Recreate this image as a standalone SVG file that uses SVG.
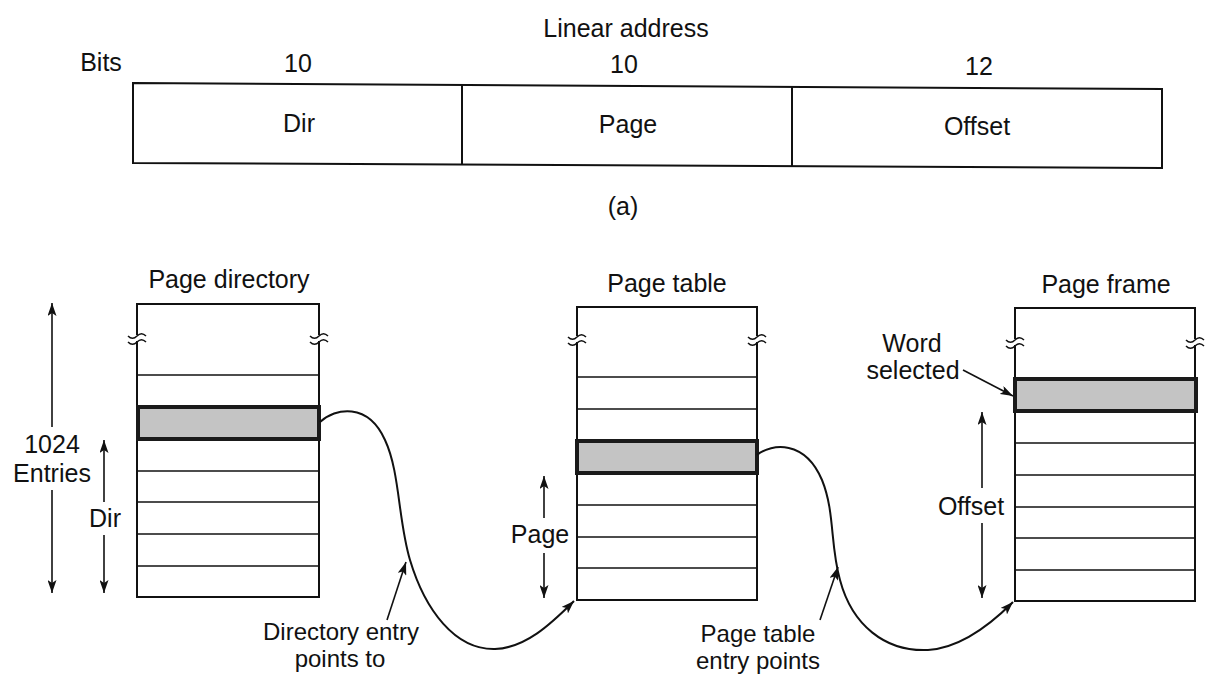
<svg xmlns="http://www.w3.org/2000/svg" width="1213" height="674" viewBox="0 0 1213 674">
<defs>
<style>
text{font-family:"Liberation Sans",Arial,sans-serif;font-size:25px;fill:#111;text-anchor:middle}
.sm{font-size:24px}
.box{fill:none;stroke:#111;stroke-width:2}
.row{stroke:#111;stroke-width:1.6}
.sel{fill:#c4c4c4;stroke:#1a1a1a;stroke-width:4}
.brk{fill:none;stroke:#111;stroke-width:1.5}
.gap{fill:#fff}
.ln{fill:none;stroke:#111;stroke-width:1.6}
.cv{fill:none;stroke:#111;stroke-width:2}
</style>
<marker id="ah" markerUnits="userSpaceOnUse" markerWidth="14" markerHeight="9" refX="13" refY="4.5" orient="auto">
<path d="M0,0 L13,4.5 L0,9 L3,4.5 z" fill="#111"/>
</marker>
<g id="brk">
<rect class="gap" x="-3" y="-2" width="6" height="6"/>
<path class="brk" d="M-9,-1 c3,3 6,3 9,0 s6,-3 9,0 M-9,5 c3,3 6,3 9,0 s6,-3 9,0"/>
</g>
</defs>
<rect width="1213" height="674" fill="#fff"/>

<g id="linear-address">
<text x="626" y="37">Linear address</text>
<text x="101" y="71">Bits</text>
<text x="298" y="72">10</text>
<text x="624" y="73">10</text>
<text x="979" y="75">12</text>
<polygon class="box" points="133,83 1162,89 1162,168 133,163"/>
<line class="box" x1="462" y1="85" x2="462" y2="165"/>
<line class="box" x1="792" y1="87" x2="792" y2="166"/>
<text x="299" y="132">Dir</text>
<text x="628" y="133">Page</text>
<text x="977" y="135">Offset</text>
<text x="623" y="215">(a)</text>
</g>

<g id="page-directory">
<text x="229" y="288">Page directory</text>
<rect class="box" x="137" y="304" width="182" height="293"/>
<line class="row" x1="137" y1="375" x2="319" y2="375"/>
<line class="row" x1="137" y1="471" x2="319" y2="471"/>
<line class="row" x1="137" y1="502" x2="319" y2="502"/>
<line class="row" x1="137" y1="534" x2="319" y2="534"/>
<line class="row" x1="137" y1="566" x2="319" y2="566"/>
<rect class="sel" x="138" y="407" width="181" height="32"/>
<use href="#brk" x="137" y="337"/>
<use href="#brk" x="319" y="337"/>
</g>

<g id="page-table">
<text x="667" y="292">Page table</text>
<rect class="box" x="577" y="307" width="180" height="293"/>
<line class="row" x1="577" y1="377" x2="757" y2="377"/>
<line class="row" x1="577" y1="409" x2="757" y2="409"/>
<line class="row" x1="577" y1="505" x2="757" y2="505"/>
<line class="row" x1="577" y1="537" x2="757" y2="537"/>
<line class="row" x1="577" y1="568" x2="757" y2="568"/>
<rect class="sel" x="577" y="441" width="180" height="32"/>
<use href="#brk" x="577" y="338"/>
<use href="#brk" x="757" y="338"/>
</g>

<g id="page-frame">
<text x="1106" y="293">Page frame</text>
<rect class="box" x="1015" y="308" width="180" height="293"/>
<line class="row" x1="1015" y1="443" x2="1195" y2="443"/>
<line class="row" x1="1015" y1="475" x2="1195" y2="475"/>
<line class="row" x1="1015" y1="507" x2="1195" y2="507"/>
<line class="row" x1="1015" y1="538" x2="1195" y2="538"/>
<line class="row" x1="1015" y1="570" x2="1195" y2="570"/>
<rect class="sel" x="1015" y="379" width="181" height="32"/>
<use href="#brk" x="1015" y="341"/>
<use href="#brk" x="1195" y="341"/>
</g>

<g id="dimension-labels">
<text x="52" y="453">1024</text>
<text x="52" y="482">Entries</text>
<text x="105" y="527">Dir</text>
<text x="540" y="543">Page</text>
<text x="971" y="515">Offset</text>
<text x="912" y="352">Word</text>
<text x="913" y="379">selected</text>
<text x="341" y="640" class="sm">Directory entry</text>
<text x="340" y="667" class="sm">points to</text>
<text x="758" y="642" class="sm">Page table</text>
<text x="758" y="669" class="sm">entry points</text>
</g>

<g id="connectors">
<line class="ln" x1="52" y1="427" x2="52" y2="303" marker-end="url(#ah)"/>
<line class="ln" x1="52" y1="490" x2="52" y2="593" marker-end="url(#ah)"/>
<line class="ln" x1="104" y1="502" x2="104" y2="440" marker-end="url(#ah)"/>
<line class="ln" x1="104" y1="535" x2="104" y2="593" marker-end="url(#ah)"/>
<line class="ln" x1="544" y1="518" x2="544" y2="476" marker-end="url(#ah)"/>
<line class="ln" x1="544" y1="553" x2="544" y2="598" marker-end="url(#ah)"/>
<line class="ln" x1="982" y1="488" x2="982" y2="412" marker-end="url(#ah)"/>
<line class="ln" x1="982" y1="523" x2="982" y2="598" marker-end="url(#ah)"/>
<path class="cv" d="M320,422 C335,408 368,402 385,440 C400,472 398,520 410,560 C425,610 455,650 495,649 C525,648 550,625 574,601" marker-end="url(#ah)"/>
<path class="cv" d="M757,455 C772,443 805,440 822,480 C835,512 830,545 840,580 C852,625 885,652 928,650 C960,648 990,625 1013,602" marker-end="url(#ah)"/>
<line class="ln" x1="387" y1="620" x2="406" y2="562" marker-end="url(#ah)"/>
<line class="ln" x1="820" y1="620" x2="838" y2="567" marker-end="url(#ah)"/>
<line class="ln" x1="963" y1="370" x2="1013" y2="396" marker-end="url(#ah)"/>
</g>
</svg>
